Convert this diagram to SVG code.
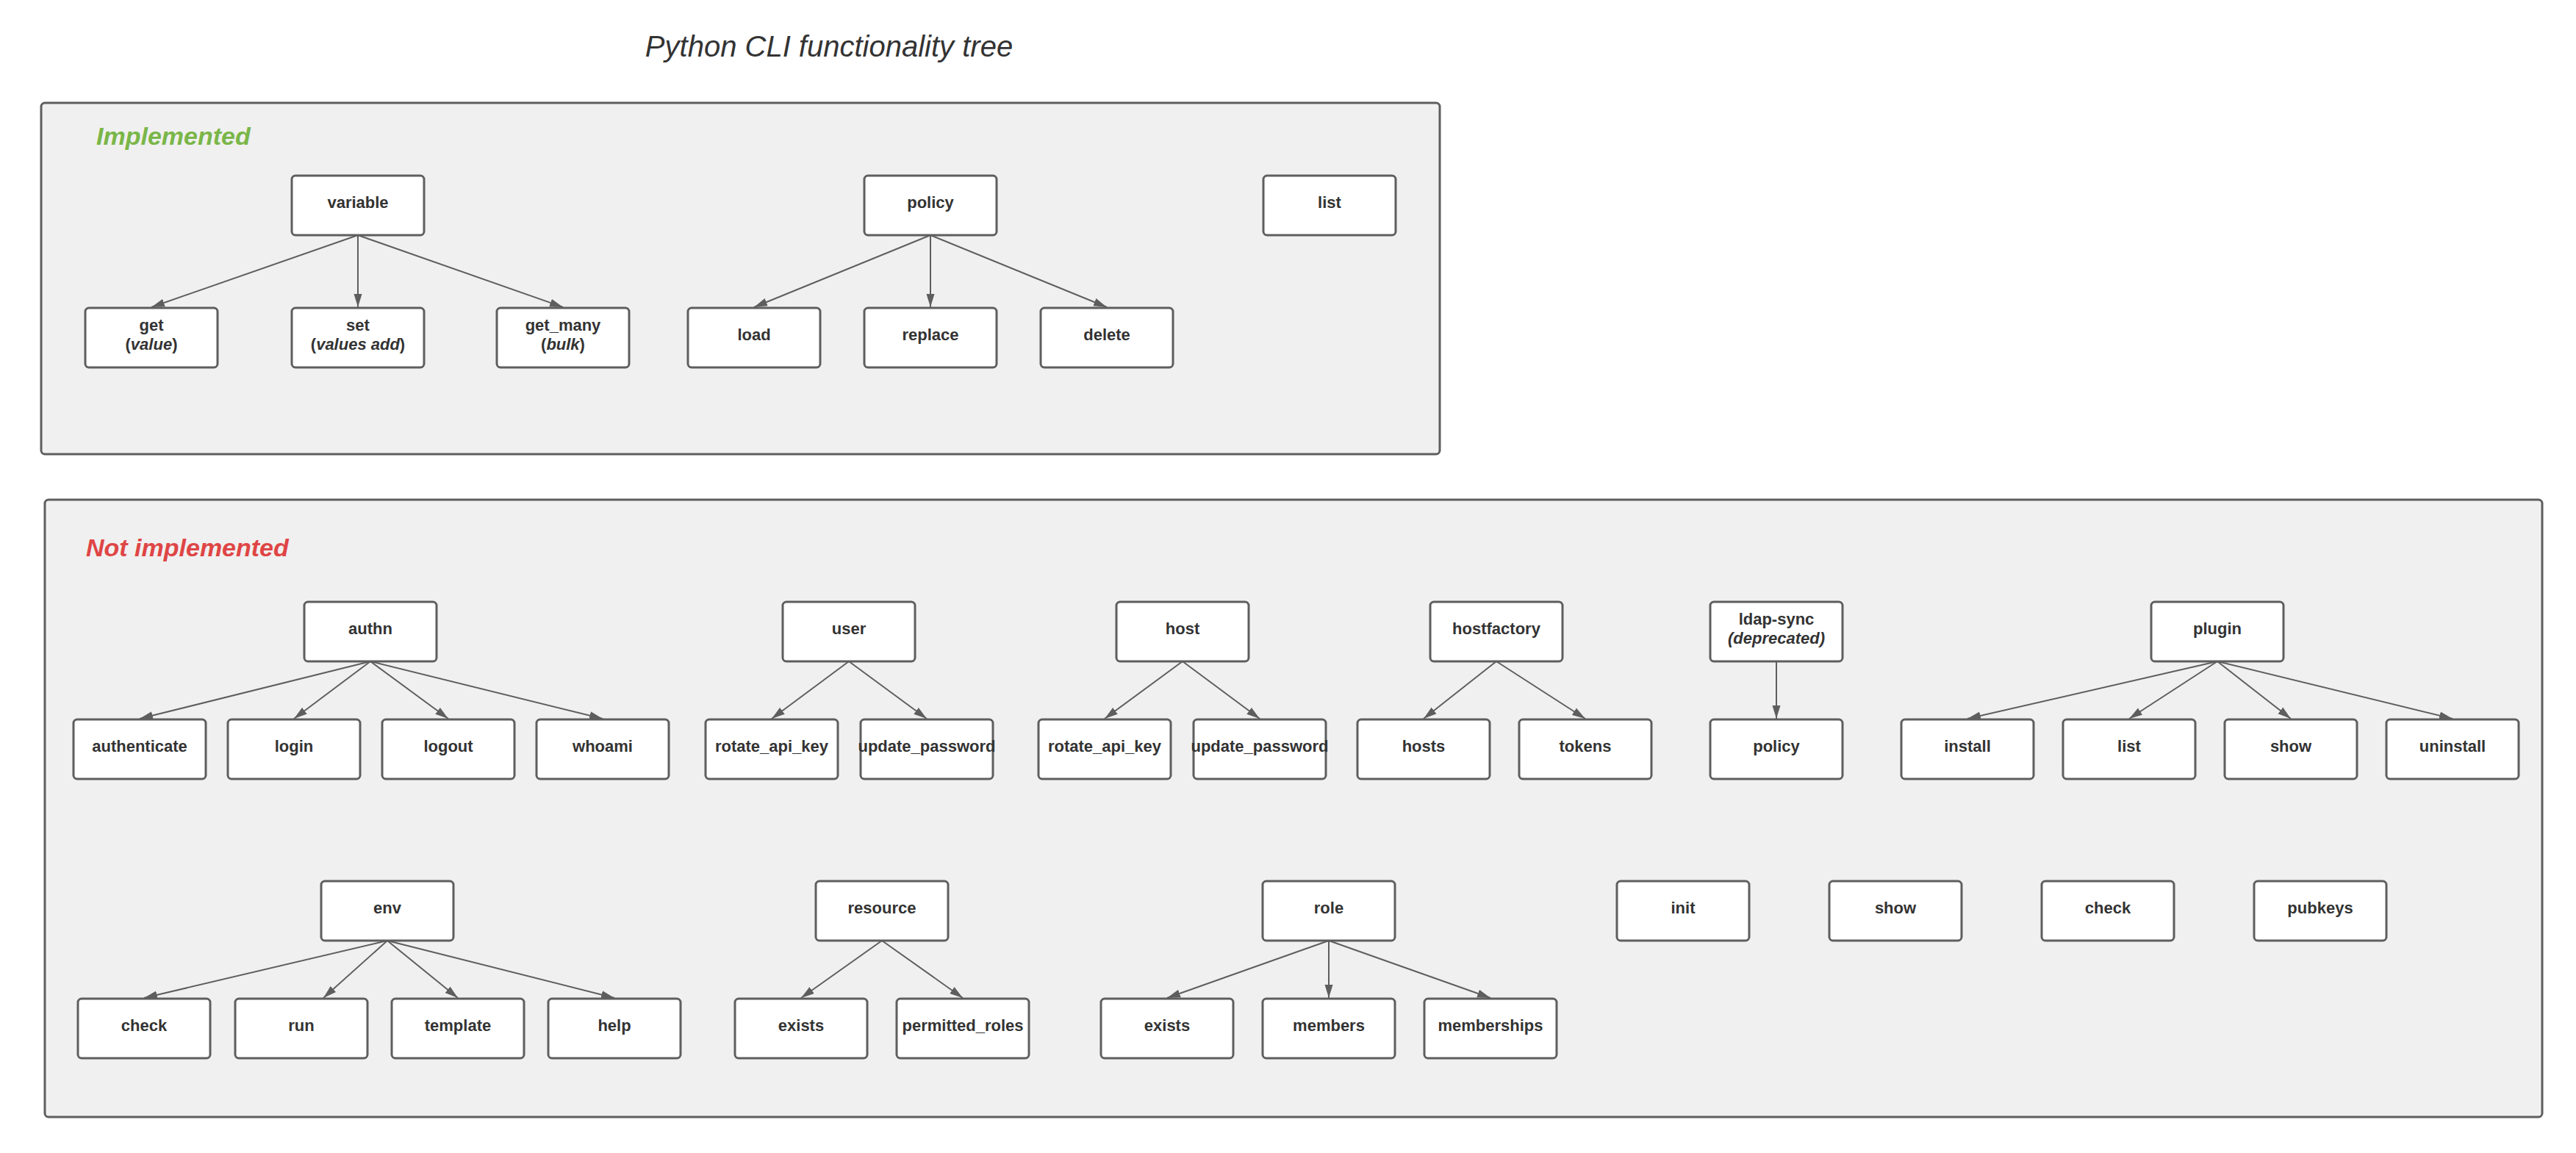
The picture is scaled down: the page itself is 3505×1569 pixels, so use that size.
<svg xmlns="http://www.w3.org/2000/svg" width="3505" height="1569" viewBox="0 0 3505 1569">
<style>
.bg{fill:#ffffff}
.frame{fill:#f0f0f0;stroke:#5e5e5e;stroke-width:3}
.node rect{fill:#ffffff;stroke:#5e5e5e;stroke-width:3}
.node text{font-family:"Liberation Sans",Arial,sans-serif;font-weight:bold;font-size:22px;fill:#333333;text-anchor:middle}
.it{font-style:italic}
.title{font-family:"Liberation Sans",Arial,sans-serif;font-style:italic;font-size:40px;fill:#333333;text-anchor:middle}
.sec{font-family:"Liberation Sans",Arial,sans-serif;font-style:italic;font-weight:bold;font-size:34px}
#connectors line{stroke:#5e5e5e;stroke-width:2;fill:none;marker-end:url(#arr)}
</style>
<defs>
<marker id="arr" viewBox="0 0 18 12" refX="18" refY="6" markerWidth="18" markerHeight="12" markerUnits="userSpaceOnUse" orient="auto">
<path d="M0,0.5 L18,6 L0,11.5 z" fill="#5e5e5e"/>
</marker>
</defs>
<rect class="bg" x="0" y="0" width="3505" height="1569"/>
<text class="title" x="1128" y="77">Python CLI functionality tree</text>

<g id="sec-implemented">
<rect class="frame" x="56" y="140" width="1903" height="478" rx="5"/>
<text class="sec" x="131" y="197" fill="#7ab648">Implemented</text>
</g>
<g id="sec-not-implemented">
<rect class="frame" x="61" y="680" width="3398" height="840" rx="5"/>
<text class="sec" x="117" y="757" fill="#df4545">Not implemented</text>
</g>

<g id="connectors">
<line x1="487" y1="320" x2="206" y2="418"/>
<line x1="487" y1="320" x2="487" y2="418"/>
<line x1="487" y1="320" x2="766" y2="418"/>
<line x1="1266" y1="320" x2="1026" y2="418"/>
<line x1="1266" y1="320" x2="1266" y2="418"/>
<line x1="1266" y1="320" x2="1506" y2="418"/>

<line x1="504" y1="900" x2="190" y2="978"/>
<line x1="504" y1="900" x2="400" y2="978"/>
<line x1="504" y1="900" x2="610" y2="978"/>
<line x1="504" y1="900" x2="820" y2="978"/>
<line x1="1155" y1="900" x2="1050" y2="978"/>
<line x1="1155" y1="900" x2="1261" y2="978"/>
<line x1="1609" y1="900" x2="1503" y2="978"/>
<line x1="1609" y1="900" x2="1714" y2="978"/>
<line x1="2036" y1="900" x2="1937" y2="978"/>
<line x1="2036" y1="900" x2="2157" y2="978"/>
<line x1="2417" y1="900" x2="2417" y2="978"/>
<line x1="3017" y1="900" x2="2677" y2="978"/>
<line x1="3017" y1="900" x2="2897" y2="978"/>
<line x1="3017" y1="900" x2="3117" y2="978"/>
<line x1="3017" y1="900" x2="3337" y2="978"/>

<line x1="527" y1="1280" x2="196" y2="1358"/>
<line x1="527" y1="1280" x2="440" y2="1358"/>
<line x1="527" y1="1280" x2="623" y2="1358"/>
<line x1="527" y1="1280" x2="836" y2="1358"/>
<line x1="1200" y1="1280" x2="1090" y2="1358"/>
<line x1="1200" y1="1280" x2="1310" y2="1358"/>
<line x1="1808" y1="1280" x2="1588" y2="1358"/>
<line x1="1808" y1="1280" x2="1808" y2="1358"/>
<line x1="1808" y1="1280" x2="2028" y2="1358"/>
</g>

<g id="n-variable" class="node"><rect x="397" y="239" width="180" height="81" rx="5"/><text x="487" y="283">variable</text></g>
<g id="n-get" class="node"><rect x="116" y="419" width="180" height="81" rx="5"/><text x="206" y="450">get</text><text x="206" y="476">(<tspan class="it">value</tspan>)</text></g>
<g id="n-set" class="node"><rect x="397" y="419" width="180" height="81" rx="5"/><text x="487" y="450">set</text><text x="487" y="476">(<tspan class="it">values add</tspan>)</text></g>
<g id="n-get_many" class="node"><rect x="676" y="419" width="180" height="81" rx="5"/><text x="766" y="450">get_many</text><text x="766" y="476">(<tspan class="it">bulk</tspan>)</text></g>
<g id="n-policy" class="node"><rect x="1176" y="239" width="180" height="81" rx="5"/><text x="1266" y="283">policy</text></g>
<g id="n-load" class="node"><rect x="936" y="419" width="180" height="81" rx="5"/><text x="1026" y="463">load</text></g>
<g id="n-replace" class="node"><rect x="1176" y="419" width="180" height="81" rx="5"/><text x="1266" y="463">replace</text></g>
<g id="n-delete" class="node"><rect x="1416" y="419" width="180" height="81" rx="5"/><text x="1506" y="463">delete</text></g>
<g id="n-list" class="node"><rect x="1719" y="239" width="180" height="81" rx="5"/><text x="1809" y="283">list</text></g>

<g id="n-authn" class="node"><rect x="414" y="819" width="180" height="81" rx="5"/><text x="504" y="863">authn</text></g>
<g id="n-authenticate" class="node"><rect x="100" y="979" width="180" height="81" rx="5"/><text x="190" y="1023">authenticate</text></g>
<g id="n-login" class="node"><rect x="310" y="979" width="180" height="81" rx="5"/><text x="400" y="1023">login</text></g>
<g id="n-logout" class="node"><rect x="520" y="979" width="180" height="81" rx="5"/><text x="610" y="1023">logout</text></g>
<g id="n-whoami" class="node"><rect x="730" y="979" width="180" height="81" rx="5"/><text x="820" y="1023">whoami</text></g>

<g id="n-user" class="node"><rect x="1065" y="819" width="180" height="81" rx="5"/><text x="1155" y="863">user</text></g>
<g id="n-user-rotate" class="node"><rect x="960" y="979" width="180" height="81" rx="5"/><text x="1050" y="1023">rotate_api_key</text></g>
<g id="n-user-update" class="node"><rect x="1171" y="979" width="180" height="81" rx="5"/><text x="1261" y="1023">update_password</text></g>

<g id="n-host" class="node"><rect x="1519" y="819" width="180" height="81" rx="5"/><text x="1609" y="863">host</text></g>
<g id="n-host-rotate" class="node"><rect x="1413" y="979" width="180" height="81" rx="5"/><text x="1503" y="1023">rotate_api_key</text></g>
<g id="n-host-update" class="node"><rect x="1624" y="979" width="180" height="81" rx="5"/><text x="1714" y="1023">update_password</text></g>

<g id="n-hostfactory" class="node"><rect x="1946" y="819" width="180" height="81" rx="5"/><text x="2036" y="863">hostfactory</text></g>
<g id="n-hosts" class="node"><rect x="1847" y="979" width="180" height="81" rx="5"/><text x="1937" y="1023">hosts</text></g>
<g id="n-tokens" class="node"><rect x="2067" y="979" width="180" height="81" rx="5"/><text x="2157" y="1023">tokens</text></g>

<g id="n-ldap-sync" class="node"><rect x="2327" y="819" width="180" height="81" rx="5"/><text x="2417" y="850">ldap-sync</text><text x="2417" y="876" class="it">(deprecated)</text></g>
<g id="n-ldap-policy" class="node"><rect x="2327" y="979" width="180" height="81" rx="5"/><text x="2417" y="1023">policy</text></g>

<g id="n-plugin" class="node"><rect x="2927" y="819" width="180" height="81" rx="5"/><text x="3017" y="863">plugin</text></g>
<g id="n-install" class="node"><rect x="2587" y="979" width="180" height="81" rx="5"/><text x="2677" y="1023">install</text></g>
<g id="n-plugin-list" class="node"><rect x="2807" y="979" width="180" height="81" rx="5"/><text x="2897" y="1023">list</text></g>
<g id="n-plugin-show" class="node"><rect x="3027" y="979" width="180" height="81" rx="5"/><text x="3117" y="1023">show</text></g>
<g id="n-uninstall" class="node"><rect x="3247" y="979" width="180" height="81" rx="5"/><text x="3337" y="1023">uninstall</text></g>

<g id="n-env" class="node"><rect x="437" y="1199" width="180" height="81" rx="5"/><text x="527" y="1243">env</text></g>
<g id="n-env-check" class="node"><rect x="106" y="1359" width="180" height="81" rx="5"/><text x="196" y="1403">check</text></g>
<g id="n-run" class="node"><rect x="320" y="1359" width="180" height="81" rx="5"/><text x="410" y="1403">run</text></g>
<g id="n-template" class="node"><rect x="533" y="1359" width="180" height="81" rx="5"/><text x="623" y="1403">template</text></g>
<g id="n-help" class="node"><rect x="746" y="1359" width="180" height="81" rx="5"/><text x="836" y="1403">help</text></g>

<g id="n-resource" class="node"><rect x="1110" y="1199" width="180" height="81" rx="5"/><text x="1200" y="1243">resource</text></g>
<g id="n-resource-exists" class="node"><rect x="1000" y="1359" width="180" height="81" rx="5"/><text x="1090" y="1403">exists</text></g>
<g id="n-permitted_roles" class="node"><rect x="1220" y="1359" width="180" height="81" rx="5"/><text x="1310" y="1403">permitted_roles</text></g>

<g id="n-role" class="node"><rect x="1718" y="1199" width="180" height="81" rx="5"/><text x="1808" y="1243">role</text></g>
<g id="n-role-exists" class="node"><rect x="1498" y="1359" width="180" height="81" rx="5"/><text x="1588" y="1403">exists</text></g>
<g id="n-members" class="node"><rect x="1718" y="1359" width="180" height="81" rx="5"/><text x="1808" y="1403">members</text></g>
<g id="n-memberships" class="node"><rect x="1938" y="1359" width="180" height="81" rx="5"/><text x="2028" y="1403">memberships</text></g>

<g id="n-init" class="node"><rect x="2200" y="1199" width="180" height="81" rx="5"/><text x="2290" y="1243">init</text></g>
<g id="n-show" class="node"><rect x="2489" y="1199" width="180" height="81" rx="5"/><text x="2579" y="1243">show</text></g>
<g id="n-check" class="node"><rect x="2778" y="1199" width="180" height="81" rx="5"/><text x="2868" y="1243">check</text></g>
<g id="n-pubkeys" class="node"><rect x="3067" y="1199" width="180" height="81" rx="5"/><text x="3157" y="1243">pubkeys</text></g>
</svg>
